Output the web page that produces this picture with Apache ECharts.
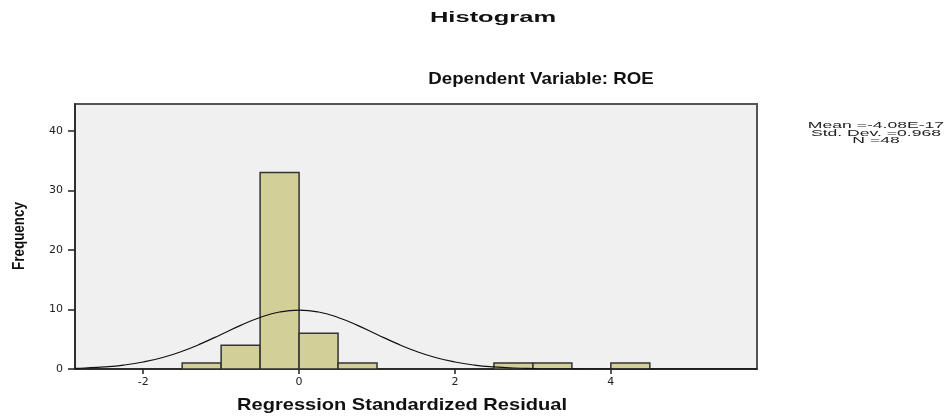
<!DOCTYPE html>
<html><head><meta charset="utf-8">
<script src="https://cdn.jsdelivr.net/npm/echarts@6/dist/echarts.min.js"></script>
<style>html,body{margin:0;padding:0;background:#fff}#c{width:947px;height:416px}</style>
</head><body><div id="c"></div>
<script>
const binStarts = [-1.5, -1.0, -0.5, 0.0, 0.5, 2.5, 3.0, 4.0];
const binCounts = [1, 4, 33, 6, 1, 1, 1, 1];
const binWidth = 0.5;
const curveX = [-2.875,-2.75,-2.5,-2.25,-2,-1.75,-1.5,-1.25,-1,-0.75,-0.5,-0.25,0,0.25,0.5,0.75,1,1.25,1.5,1.75,2,2.25,2.5,2.75,3,3.25,3.5,4,4.5,5,5.5,5.875];
const curveY = [0.12,0.17,0.35,0.66,1.17,1.93,2.98,4.30,5.80,7.33,8.65,9.57,9.89,9.57,8.65,7.33,5.80,4.30,2.98,1.93,1.17,0.66,0.35,0.17,0.08,0.035,0.014,0.001,0,0,0,0];
const xTicks = [-2, 0, 2, 4];
const yTicks = [0, 10, 20, 30, 40];
const statsLines = ['Mean =-4.08E-17', 'Std. Dev. =0.968', 'N =48'];
const titleText = 'Histogram';
const subtitleText = 'Dependent Variable: ROE';
const xName = 'Regression Standardized Residual';
const yName = 'Frequency';

const chart = echarts.init(document.getElementById('c'));
const F = 'Liberation Sans, Arial, sans-serif';
const T = 'DejaVu Sans, sans-serif';
const txt = (text, x, y, size, sx, bold, extra) => Object.assign({
  type: 'text', x: x, y: y, scaleX: sx, silent: true,
  style: {text: text, fontFamily: F, fontSize: size, fontWeight: bold ? 'bold' : 'normal',
          fill: bold ? '#111' : '#222', align: 'center', verticalAlign: 'middle'}
}, extra || {});
chart.setOption({
  animation: false,
  backgroundColor: '#fff',
  grid: {left: 75, right: 190, top: 104, bottom: 47, show: true,
         backgroundColor: '#f0f0f0', borderColor: '#555', borderWidth: 2},
  xAxis: {type: 'value', min: -2.875, max: 5.875,
    axisLine: {show: true, onZero: false, lineStyle: {color: '#222', width: 1.5}},
    axisTick: {show: true, length: 5, customValues: xTicks, lineStyle: {color: '#222', width: 1.5}},
    axisLabel: {customValues: xTicks, fontFamily: T, fontSize: 11, color: '#222', margin: 8},
    splitLine: {show: false}},
  yAxis: {type: 'value', min: 0, max: 44.5,
    axisLine: {show: true, onZero: false, lineStyle: {color: '#222', width: 1.5}},
    axisTick: {show: true, length: 7, customValues: yTicks, lineStyle: {color: '#222', width: 1.5}},
    axisLabel: {customValues: yTicks, fontFamily: T, fontSize: 11, color: '#222', margin: 12},
    splitLine: {show: false}},
  series: [
    {type: 'custom', data: binStarts.map((s, i) => [s, s + binWidth, binCounts[i]]),
     encode: {x: [0, 1], y: 2},
     renderItem: function (params, api) {
       const p0 = api.coord([api.value(0), 0]);
       const p1 = api.coord([api.value(1), api.value(2)]);
       return {type: 'rect', shape: {x: p0[0], y: p1[1], width: p1[0] - p0[0], height: p0[1] - p1[1]},
               style: {fill: '#d3cf98', stroke: '#333', lineWidth: 1.5}};
     }, z: 2},
    {type: 'line', data: curveX.map((x, i) => [x, curveY[i]]), smooth: true, showSymbol: false,
     lineStyle: {color: '#111', width: 1.2}, z: 3}
  ],
  graphic: [
    txt(titleText, 493, 18, 15, 1.7, true),
    txt(subtitleText, 541, 79, 17, 1.1, true),
    txt(xName, 402, 405, 17, 1.18, true),
    txt(yName, 19.5, 236, 17, 0.79, true, {rotation: Math.PI / 2}),
    txt(statsLines[0], 876, 125.5, 9.5, 1.85, false),
    txt(statsLines[1], 876, 133, 9.5, 1.85, false),
    txt(statsLines[2], 876, 140.5, 9.5, 1.85, false)
  ]
});
</script></body></html>
